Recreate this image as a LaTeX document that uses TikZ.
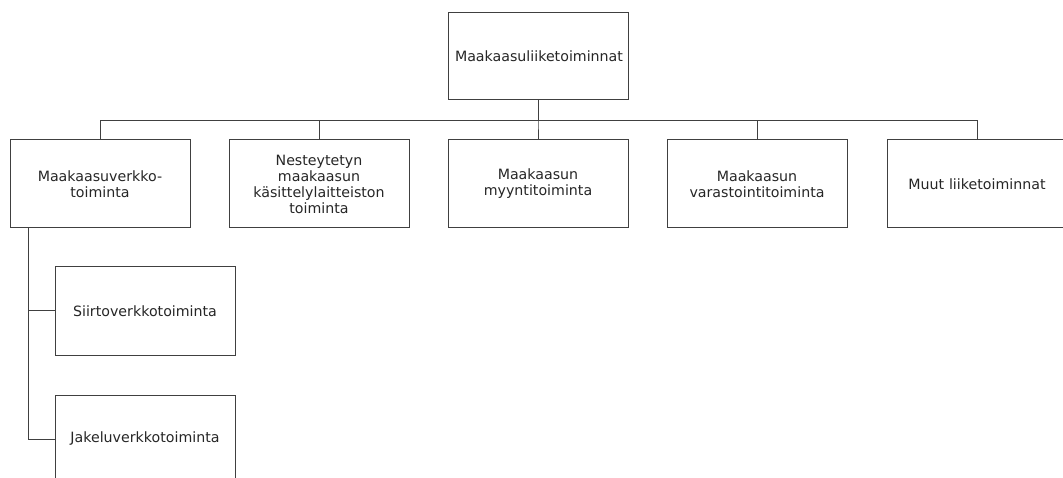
\documentclass[tikz,border=0pt]{standalone}
\usepackage{fontspec}
\setmainfont{DejaVu Sans}
\usepackage{tikz}

\begin{document}
\begin{tikzpicture}[x=1pt,y=-1pt,line width=1pt,draw=black!75,
        unit node/.style={rectangle,draw=black!75,minimum width=180pt,minimum height=88pt,
        text width=166pt,align=center,text=black!85,font=\fontsize{14.2}{16}\selectfont}]

    \useasboundingbox (0,0) rectangle (1063,478);

    \node[unit node, minimum height=87pt] (top) at (538,56.5) {Maakaasuliiketoiminnat};

    \node[unit node] (verkko) at (100,184) {Maakaasuverkko-\\toiminta};
    \node[unit node] (lng) at (319,184) {Nesteytetyn\\maakaasun\\käsittelylaitteiston\\toiminta};
    \node[unit node] (myynti) at (538,184) {Maakaasun\\myyntitoiminta};
    \node[unit node] (varasto) at (757,184) {Maakaasun\\varastointitoiminta};
    \node[unit node] (muut) at (977,184) {Muut liiketoiminnat};

    \node[unit node] (siirto) at (145,311) {Siirtoverkkotoiminta};
    \node[unit node] (jakelu) at (145,439) {Jakeluverkkotoiminta};

    \foreach \n in {verkko,lng,myynti,varasto,muut}
        \draw (top.south) -- +(0,20) -| (\n.north);

    \draw ([xshift=-72pt]verkko.south) |- (siirto.west);
    \draw ([xshift=-72pt]verkko.south) |- (jakelu.west);

\end{tikzpicture}
\end{document}
